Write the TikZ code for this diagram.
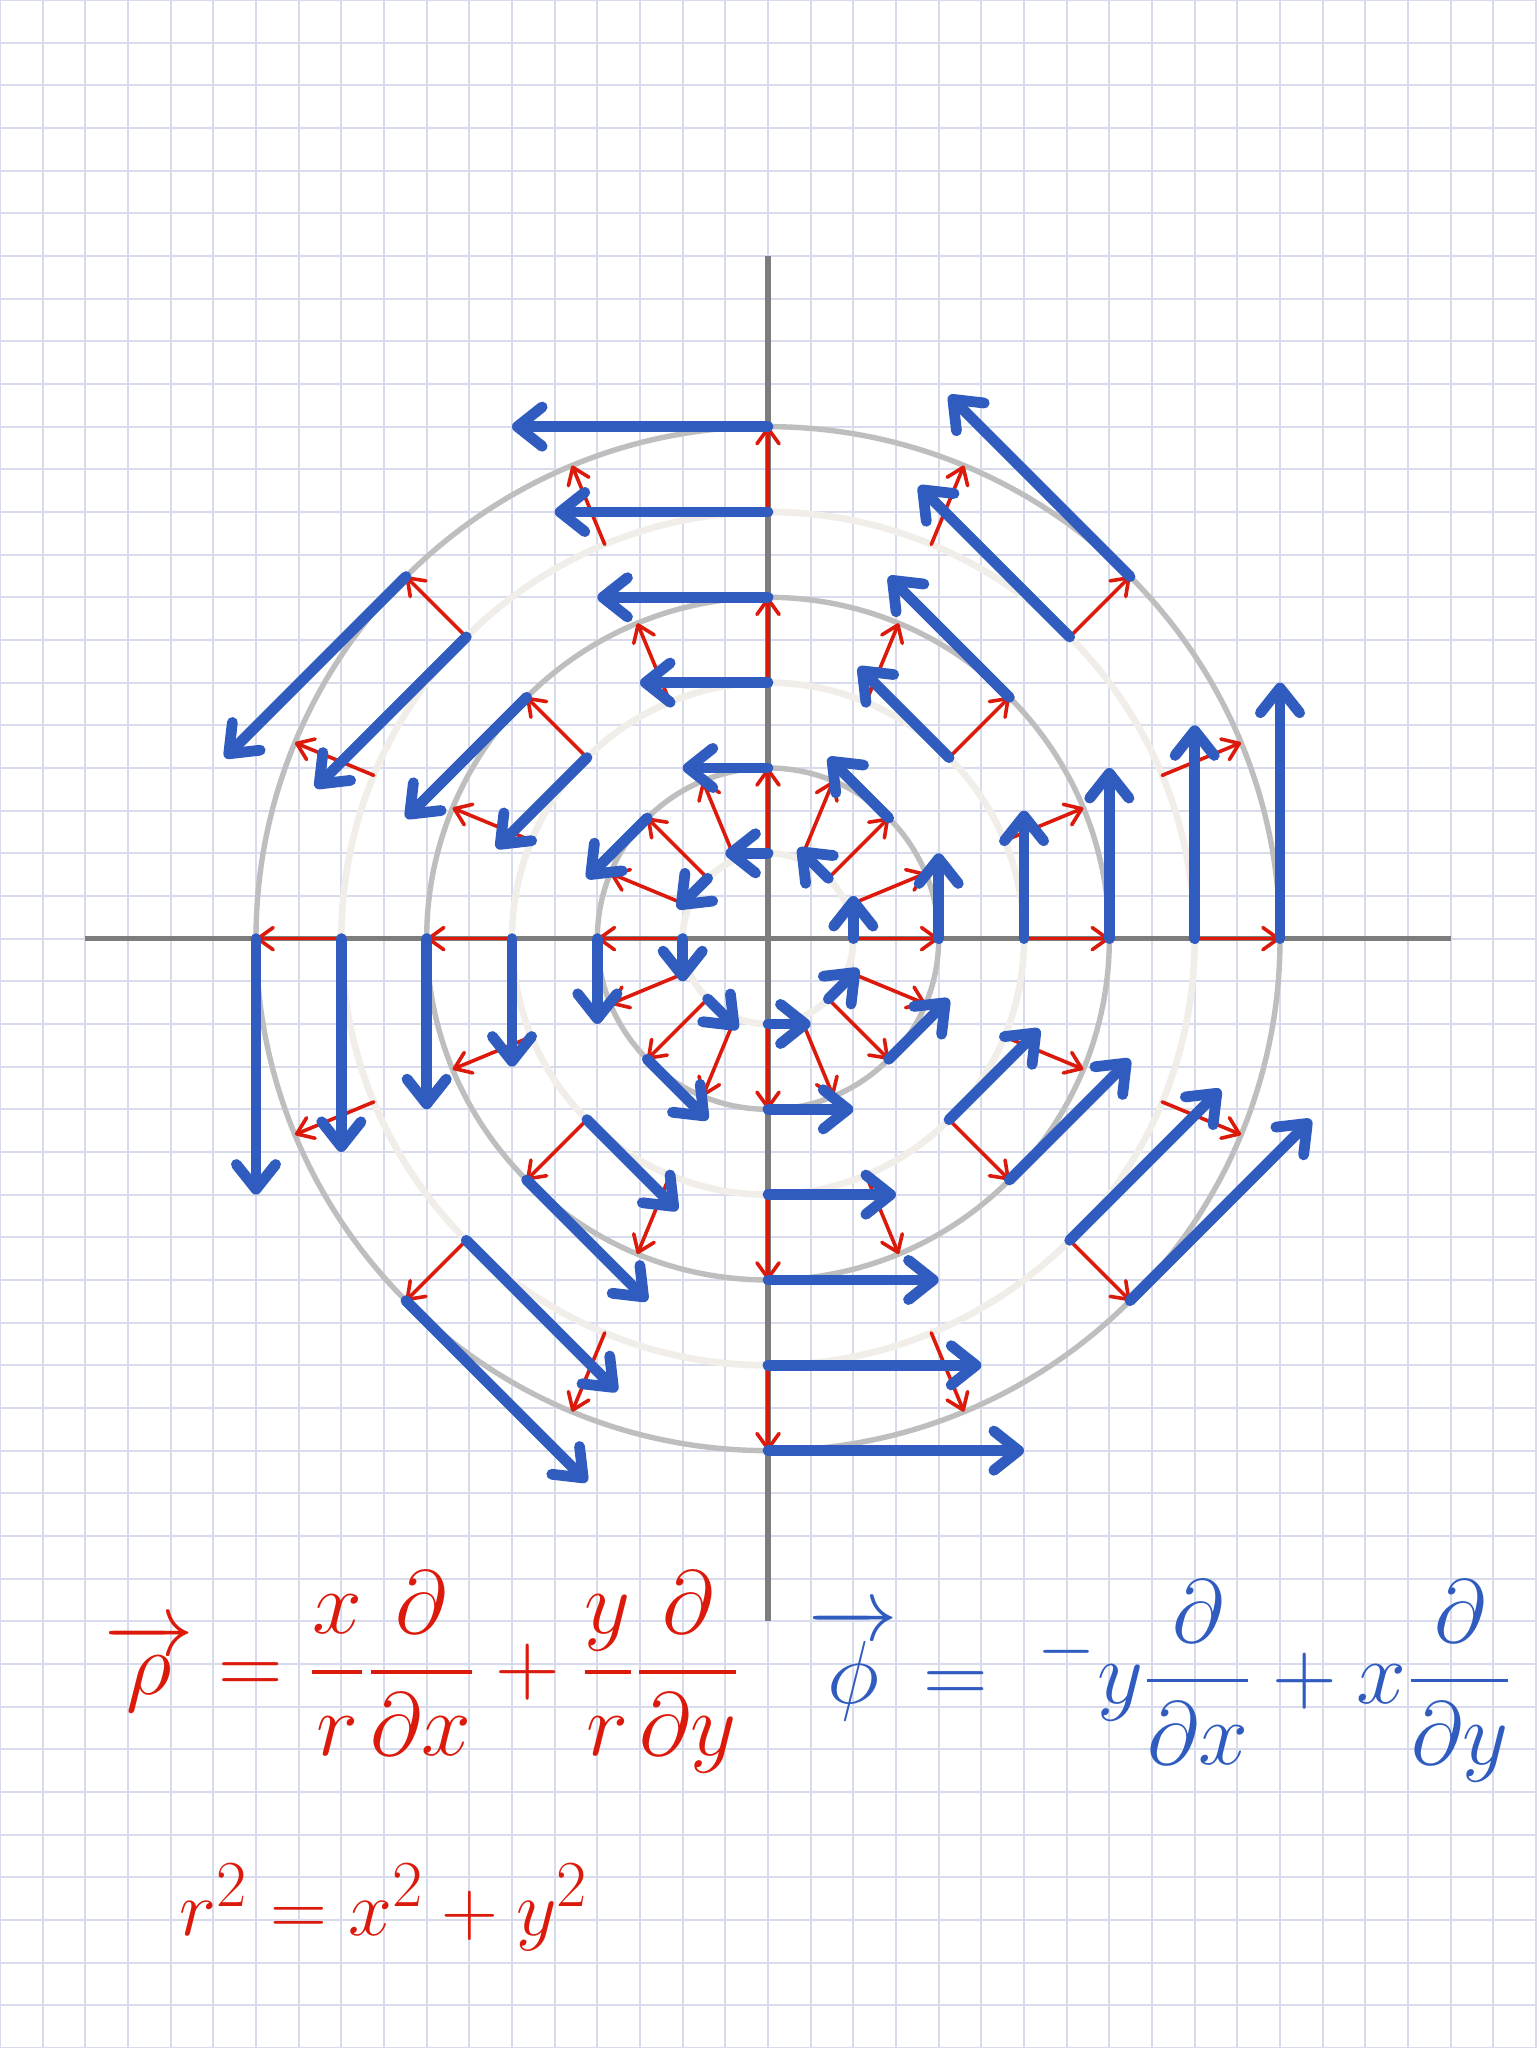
\documentclass[tikz,border=0pt]{standalone}
\usepackage{amsmath,amssymb}
\usepackage{xcolor}
\usepackage{tikz}
\usetikzlibrary{arrows.meta,positioning}

\definecolor{gridlav}{RGB}{216,219,236}
\definecolor{ringgray}{RGB}{190,190,190}
\definecolor{ringbeige}{RGB}{241,237,232}
\definecolor{axisgray}{RGB}{125,125,125}
\definecolor{rhored}{RGB}{220,26,12}
\definecolor{phiblue}{RGB}{47,92,190}

\begin{document}
\begin{tikzpicture}[x=0.5cm,y=0.5cm,
          paper/.style={gridlav,line width=0.65pt},
          ring/.style={ringgray,line width=1.8pt},
          halfring/.style={ringbeige,line width=2.2pt},
          axis/.style={axisgray,line width=1.8pt},
          rhovec/.style={rhored,line width=1.2pt,line cap=round,-{Straight Barb[length=1.8mm,width=2.6mm,round]}},
          phivec/.style={phiblue,line width=3.6pt,line cap=round,-{Straight Barb[length=2.9mm,width=4.6mm,round]}},
          eqn/.style={font=\Huge,scale=1.2,inner sep=0pt}]
        \useasboundingbox (0,0) rectangle (36,48);
        \fill[white] (0,0) rectangle (36,48);
        \draw[paper,step=0.5cm] (0,0) grid (36,48);
        \begin{scope}[shift={(18,26)}]
          \coordinate (o) at (0,0);
          \foreach \r in {4,8,12} \draw[ring] (o) circle (\r);
          \foreach \r in {2,6,10} \draw[halfring] (o) circle (\r);
          \draw[axis] (-16,0) -- (16,0);
          \draw[axis] (0,16) -- (0,-16);
          % radial field, unit length = 2 squares
          \foreach \r in {2,6,10}
            \foreach \a in {0,22.5,...,337.5}
              \draw[rhovec] (\a:\r) -- (\a:{\r+2});
          % rotational field, halved
          \foreach \r in {2,4,...,12}
            \foreach \a in {0,45,...,315}
              \draw[phivec] (\a:\r) -- ++({\a+90}:{\r/2});
        \end{scope}
        \node[eqn,text=rhored] (rhoeq) at (9.9,8.8)
          {$\overrightarrow{\rho}=\dfrac{x}{r}\dfrac{\partial}{\partial x}+\dfrac{y}{r}\dfrac{\partial}{\partial y}$};
        \node[eqn,text=phiblue] (phieq) at (27.2,8.6)
          {$\overrightarrow{\phi}=\;{}^{-}y\dfrac{\partial}{\partial x}+x\dfrac{\partial}{\partial y}$};
        \node[eqn,text=rhored,scale=0.88] (radeq) at (9.0,3.3) {$r^2=x^2+y^2$};
      \end{tikzpicture}
\end{document}
